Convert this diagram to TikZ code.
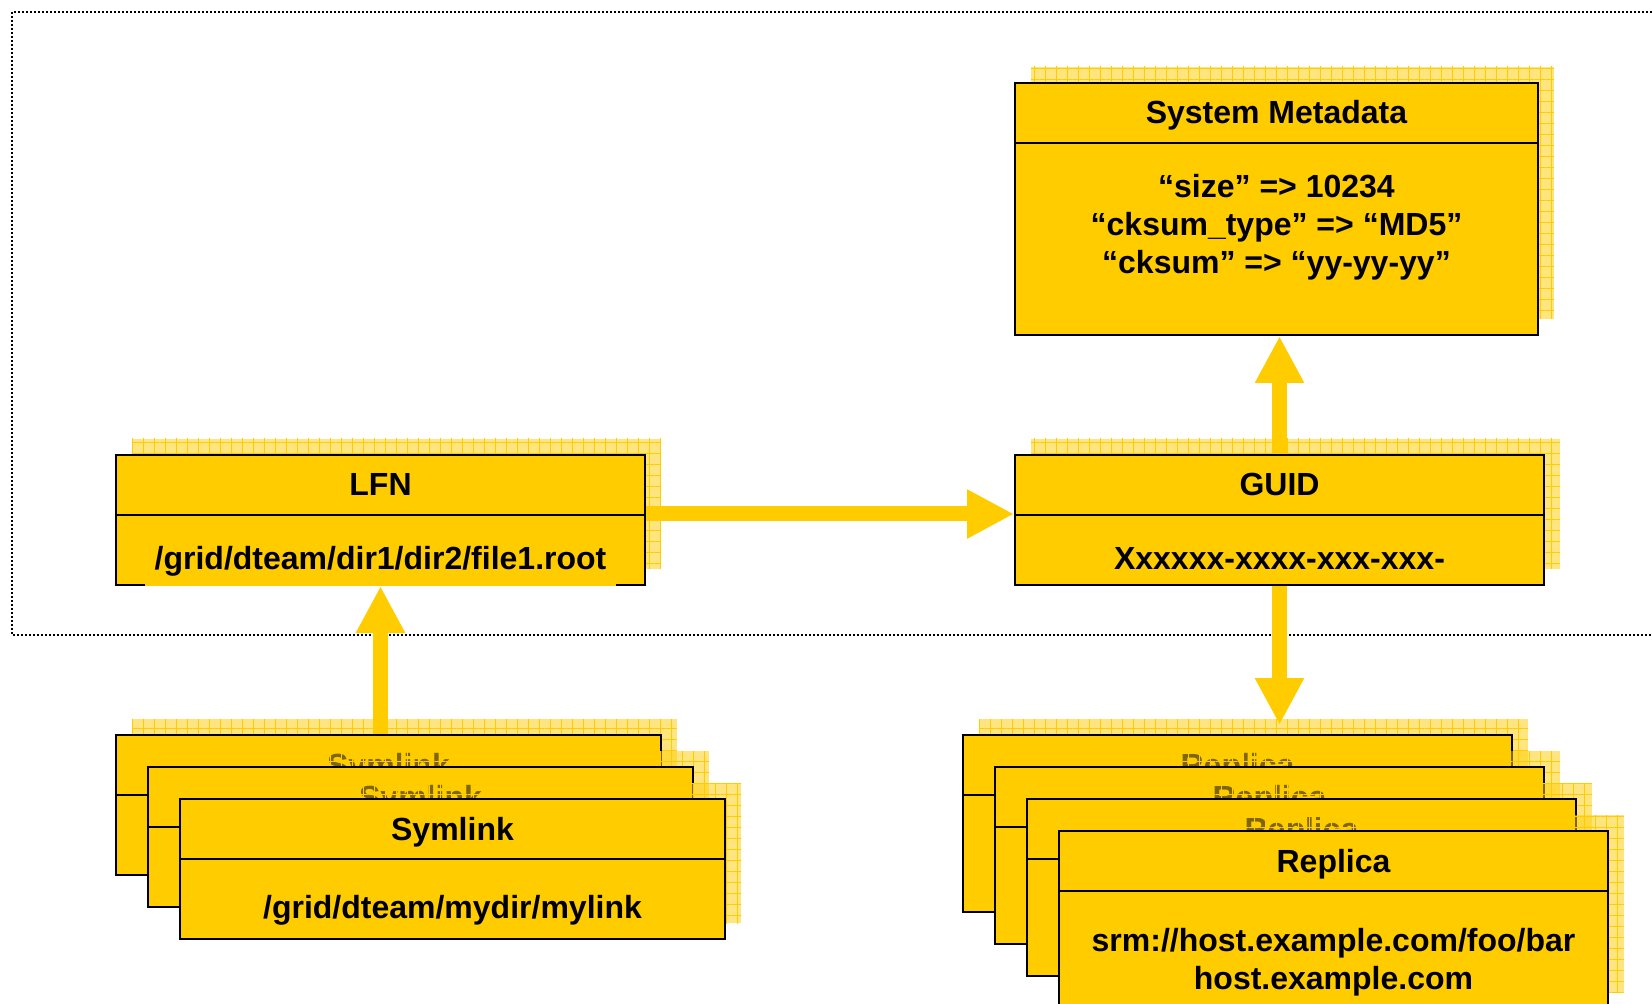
\documentclass[tikz,border=0pt]{standalone}
\usepackage{fontspec}
\setmainfont{Liberation Sans}
\usepackage{tikz}
\usetikzlibrary{arrows.meta, shadows, patterns.meta}
\definecolor{gold}{RGB}{255,204,0}

\begin{document}
\begin{tikzpicture}[x=1pt, y=-1pt, line width=1pt,
    font=\fontsize{16}{19}\selectfont\bfseries,
    box/.style={draw=black, fill=gold, rectangle, inner sep=0pt, anchor=north west,
      general shadow={shadow xshift=8pt, shadow yshift=8pt, fill=gold, fill opacity=.5,
        postaction={pattern={Hatch[angle=0, distance=5.5pt, line width=.5pt]}, pattern color=gold}},
      path picture={\draw ([yshift=-30pt]path picture bounding box.north west)
        -- ([yshift=-30pt]path picture bounding box.north east);}},
    title/.style={anchor=base, inner sep=0pt},
    body/.style={anchor=base, fill=gold, inner sep=5pt, align=center},
    flow/.style={draw=gold, line width=7.5pt, -{Triangle[width=23pt, length=23.5pt]}}]

    \useasboundingbox (0,0) rectangle (826,502);

    % draw dotted frame round the catalogue
    \draw[line width=1pt, dash pattern=on 1pt off 1pt]
      (840,6) -- (6,6) -- (6,317.5) -- (840,317.5);

    % draw system metadata box
    \node[box, minimum width=261.5pt, minimum height=126pt] (meta) at (507,41) {};
    \node[title] (meta-t) at ([yshift=-21pt]meta.north) {System Metadata};
    \node[body, anchor=center] (meta-b) at ([yshift=-72.4pt]meta.north)
      {“size” => 10234\\ “cksum\_type” => “MD5”\\ “cksum” => “yy-yy-yy”};

    % draw LFN and GUID boxes
    \node[box, minimum width=264.5pt, minimum height=65pt] (lfn) at (57.5,227) {};
    \node[title] (lfn-t) at ([yshift=-21pt]lfn.north) {LFN};
    \node[body] (lfn-b) at ([yshift=-57.5pt]lfn.north) {/grid/dteam/dir1/dir2/file1.root};

    \node[box, minimum width=264.5pt, minimum height=65pt] (guid) at (507,227) {};
    \node[title] (guid-t) at ([yshift=-21pt]guid.north) {GUID};
    \node[body] (guid-b) at ([yshift=-57.5pt]guid.north) {Xxxxxx-xxxx-xxx-xxx-};

    % draw stacked symlinks
    \foreach \i/\d in {1/0, 2/16, 3/32} {
      \node[box, minimum width=272.5pt, minimum height=70pt] (sym\i) at (57.5+\d, 367+\d) {};
      \node[title] (sym\i-t) at ([yshift=-21pt]sym\i.north) {Symlink};
    }
    \node[body] (sym-b) at ([yshift=-60pt]sym3.north) {/grid/dteam/mydir/mylink};

    % draw stacked replicas
    \foreach \i/\d in {1/0, 2/16, 3/32, 4/48} {
      \node[box, minimum width=274.5pt, minimum height=88.5pt] (rep\i) at (481+\d, 367+\d) {};
      \node[title] (rep\i-t) at ([yshift=-21pt]rep\i.north) {Replica};
    }
    \node[body, anchor=center] (rep-b) at ([yshift=-66.1pt]rep4.north)
      {srm://host.example.com/foo/bar\\ host.example.com};

    % draw arrows
    \draw[flow] ([yshift=-30pt]lfn.north east) -- ([yshift=-30pt]guid.north west);
    \draw[flow] (guid.north) -- (guid.north |- meta.south);
    \draw[flow] (lfn.south |- sym1.north) -- (lfn.south);
    \draw[flow, shorten >=4.5pt] (guid.south) -- (guid.south |- rep1.north);

\end{tikzpicture}
\end{document}
